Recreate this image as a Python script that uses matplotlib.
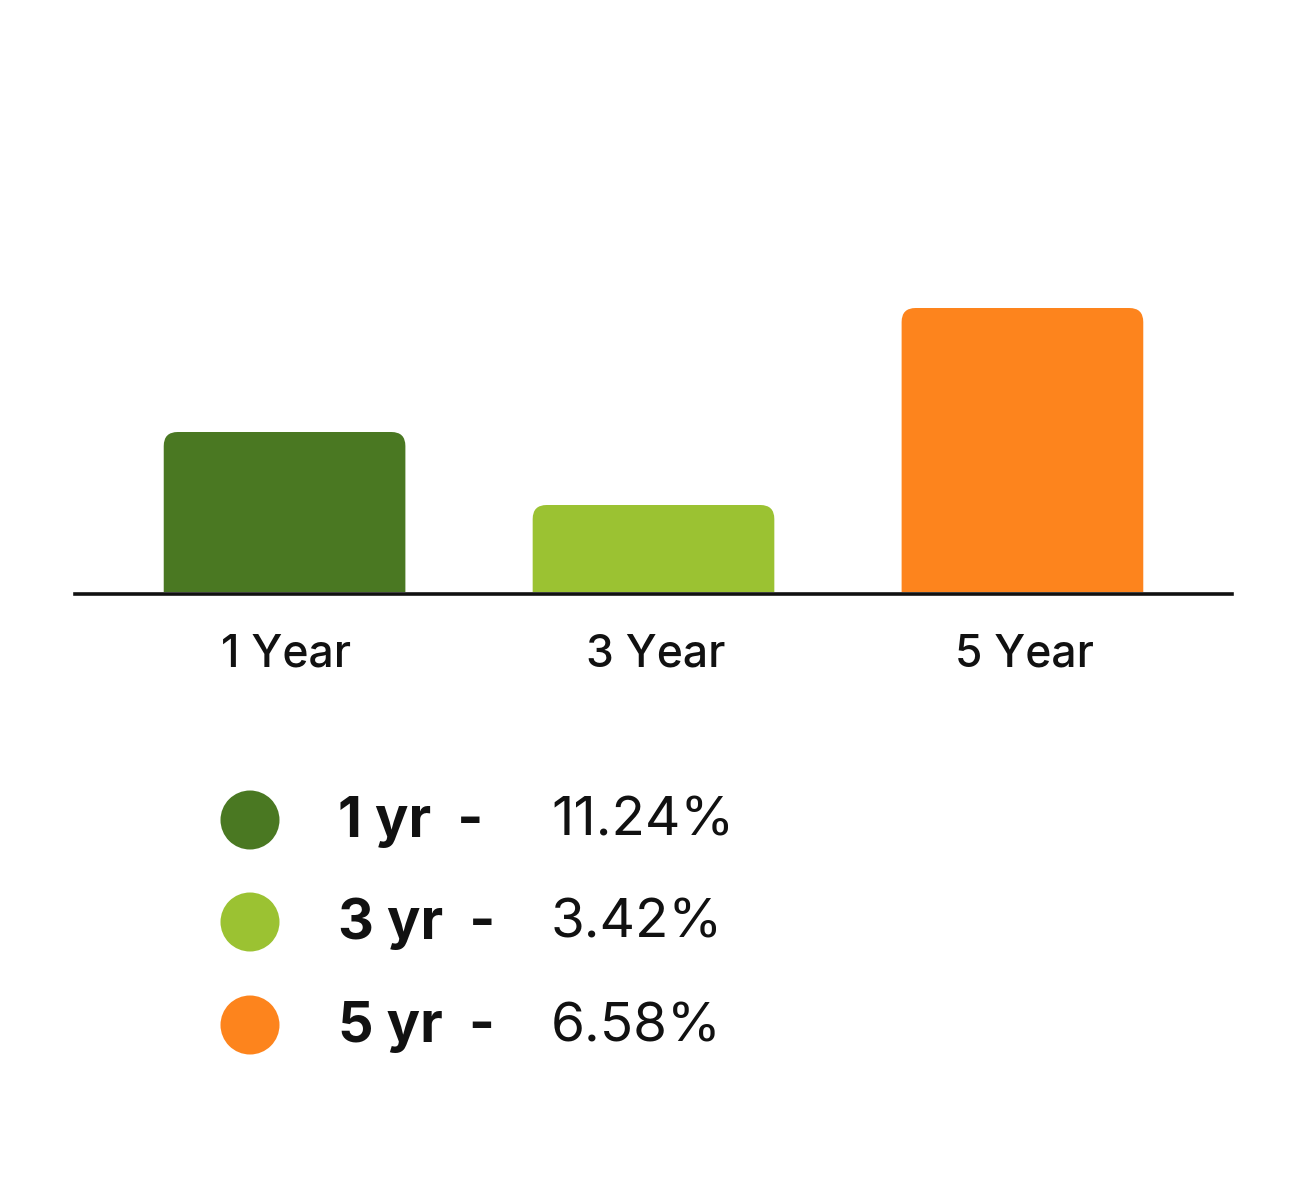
import matplotlib.pyplot as plt
from matplotlib.patches import FancyBboxPatch, Circle

categories = ['1 Year', '3 Year', '5 Year']
bar_heights = [160, 87, 284]          # bar heights as drawn (px-like units)
legend_labels = ['1 yr -', '3 yr -', '5 yr -']
legend_values = ['11.24%', '3.42%', '6.58%']
colors = ['#4a7822', '#9bc232', '#fd841d']

plt.rcParams['font.family'] = ['Inter', 'DejaVu Sans']

fig = plt.figure(figsize=(13.08, 12.03), dpi=100)
fig.patch.set_facecolor('white')

# main bar axes: baseline at y=592px, x from 75 to 1232px
W, H = 1308, 1203
ax = fig.add_axes([75 / W, 1 - 592 / H, (1232 - 75) / W, (592 - 100) / H])
ax.set_xlim(-0.568, 2.568)
ax.set_ylim(0, 492)
ax.axis('off')

bw = 0.655
xpx = (1232 - 75) / 3.136   # px per x unit
r = 14 / xpx
for i, (h, c) in enumerate(zip(bar_heights, colors)):
    p = FancyBboxPatch((i - bw / 2, -30), bw, h + 30,
                       boxstyle=f'round,pad=0,rounding_size={r}',
                       mutation_aspect=14 / r, facecolor=c, edgecolor='none')
    ax.add_patch(p)
    ax.text(i + 0.005, -62, categories[i], ha='center', va='center',
            fontsize=32, fontweight='medium', color='#111111', clip_on=False)

ax.axhline(-1.5, color='#111111', lw=2.6, clip_on=False)

# legend in pixel coords
lax = fig.add_axes([0, 0, 1, 1])
lax.set_xlim(0, W)
lax.set_ylim(H, 0)
lax.axis('off')
ys = [820, 922, 1025]
for y, lab, val, c in zip(ys, legend_labels, legend_values, colors):
    lax.add_patch(Circle((250, y), 29.5, facecolor=c, edgecolor='none'))
    lax.text(338, y + 2, lab.replace(' -', '  -'), fontsize=40,
             fontweight='bold', va='center', ha='left', color='#111111')
    lax.text(551, y + 2, val, fontsize=39.5, va='center', ha='left',
             color='#111111')

fig.savefig('out.png', dpi=100, facecolor='white')
